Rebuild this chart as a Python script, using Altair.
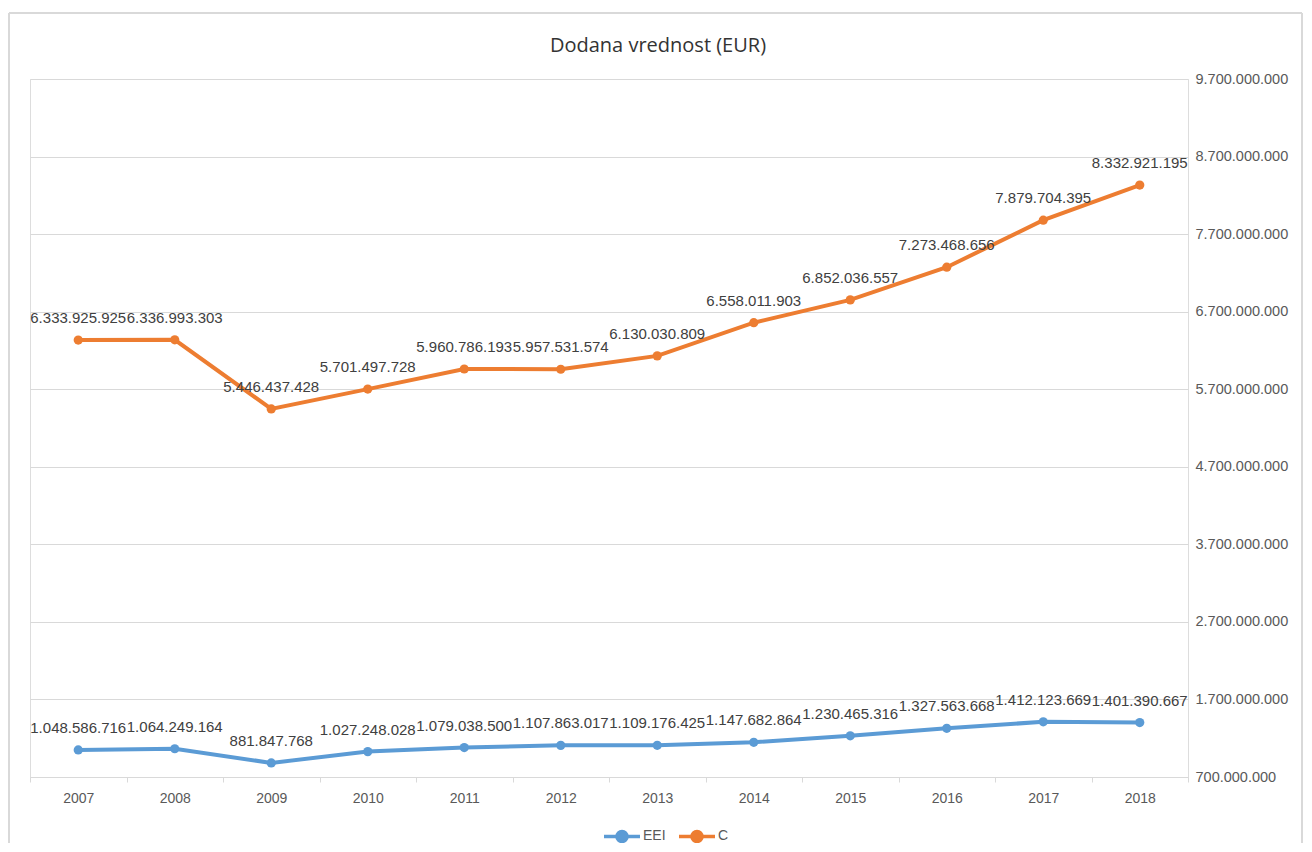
import altair as alt
import pandas as pd

years = ["2007", "2008", "2009", "2010", "2011", "2012", "2013", "2014", "2015", "2016", "2017", "2018"]
eei = [1048586716, 1064249164, 881847768, 1027248028, 1079038500, 1107863017,
       1109176425, 1147682864, 1230465316, 1327563668, 1412123669, 1401390667]
c_vals = [6333925925, 6336993303, 5446437428, 5701497728, 5960786193, 5957531574,
          6130030809, 6558011903, 6852036557, 7273468656, 7879704395, 8332921195]
series_names = ["EEI", "C"]
colors = ["#5B9BD5", "#ED7D31"]
y_ticks = [700000000 + i * 1000000000 for i in range(10)]


def fmt(v):
    return f"{v:,}".replace(",", ".")


rows = []
for name, vals in zip(series_names, [eei, c_vals]):
    for y, v in zip(years, vals):
        rows.append({"year": y, "series": name, "value": v, "label": fmt(v)})
df = pd.DataFrame(rows)

FONT = "Liberation Sans"
GRID = "#d9d9d9"
TXT = "#595959"

x_enc = alt.X("year:O", title=None, sort=years,
              scale=alt.Scale(type="band", paddingInner=0, paddingOuter=0),
              axis=alt.Axis(labelAngle=0, domainColor=GRID, tickColor=GRID, tickSize=5,
                            tickBand="extent", labelColor=TXT, labelFontSize=14,
                            labelFont=FONT, labelPadding=9, grid=False))
y_enc = alt.Y("value:Q", title=None,
              scale=alt.Scale(domain=[700000000, 9700000000], nice=False, zero=False),
              axis=alt.Axis(orient="right", values=y_ticks, grid=True, gridColor=GRID,
                            domain=False, ticks=False, labelColor=TXT, labelFontSize=14.5,
                            labelFont=FONT, labelPadding=7,
                            labelExpr="replace(replace(replace(format(datum.value, ',d'), ',', '.'), ',', '.'), ',', '.')"))
color_enc = alt.Color("series:N", sort=series_names,
                      scale=alt.Scale(domain=series_names, range=colors),
                      legend=alt.Legend(title=None, orient="none", direction="horizontal",
                                        legendX=572, legendY=737,
                                        symbolType="M-1,0L1,0M-0.28,0A0.28,0.28,0,1,1,0.28,0A0.28,0.28,0,1,1,-0.28,0Z",
                                        symbolSize=1296, symbolStrokeWidth=3.5,
                                        labelFont=FONT, labelFontSize=14, labelColor=TXT,
                                        columnPadding=6, labelOffset=1, padding=0))

base = alt.Chart(df)
lines = base.mark_line(strokeWidth=4).encode(x=x_enc, y=y_enc, color=color_enc)
points = base.mark_point(filled=True, size=85, opacity=1).encode(x=x_enc, y=y_enc, color=color_enc)
labels = base.mark_text(dy=-22, fontSize=15, font=FONT, color="#404040").encode(
    x=x_enc, y=y_enc, text="label:N")

frame_df = pd.DataFrame({"k": [0]})
frame = alt.Chart(frame_df).mark_rule(color=GRID, strokeWidth=2)
frame_top = frame.encode(x=alt.value(-21), x2=alt.value(1272), y=alt.value(-66))
frame_left = frame.encode(x=alt.value(-21), y=alt.value(-66), y2=alt.value(770))
frame_right = frame.encode(x=alt.value(1272), y=alt.value(-66), y2=alt.value(770))

chart = alt.layer(frame_top, frame_left, frame_right, lines, points, labels).properties(
    width=1158, height=698,
    title=alt.Title("Dodana vrednost (EUR)", fontSize=20, font="Open Sans", fontWeight="normal",
                    color="#333333", offset=19, dx=49, dy=63),
    autosize=alt.AutoSizeParams(type="none"),
    padding={"left": 22, "top": 71, "right": 116, "bottom": 66},
).configure_view(stroke=None).configure(background="white")

chart.save("out.html", embed_options={"renderer": "svg", "actions": False})
